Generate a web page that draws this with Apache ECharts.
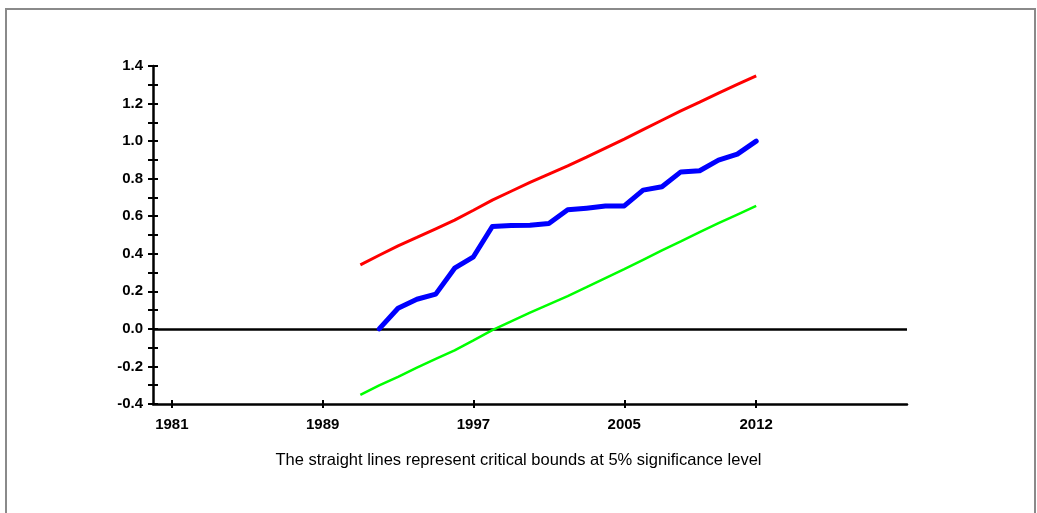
<!DOCTYPE html>
<html>
<head>
<meta charset="utf-8">
<script src="https://cdn.jsdelivr.net/npm/echarts@6/dist/echarts.min.js"></script>
<style>
html,body{margin:0;padding:0;background:#fff;}
#chart{width:1037px;height:513px;}
</style>
</head>
<body>
<div id="chart"></div>
<script>
// Data
const years = [1991,1992,1993,1994,1995,1996,1997,1998,1999,2000,2001,2002,2003,2004,2005,2006,2007,2008,2009,2010,2011,2012];
const cusumSqYears = [1992,1993,1994,1995,1996,1997,1998,1999,2000,2001,2002,2003,2004,2005,2006,2007,2008,2009,2010,2011,2012];
const cusumSq = [0.0,0.11,0.158,0.185,0.323,0.384,0.545,0.55,0.552,0.561,0.634,0.643,0.654,0.655,0.739,0.757,0.836,0.842,0.899,0.931,1.0];
const upperBound = [0.341,0.392,0.442,0.487,0.533,0.579,0.632,0.686,0.733,0.780,0.824,0.868,0.915,0.963,1.011,1.061,1.111,1.161,1.208,1.256,1.302,1.348];
const lowerBound = [-0.352,-0.301,-0.255,-0.206,-0.160,-0.114,-0.061,-0.007,0.040,0.087,0.131,0.175,0.222,0.270,0.318,0.368,0.418,0.466,0.515,0.563,0.609,0.655];
const xTickYears = [1981,1989,1997,2005,2012];
const footnote = 'The straight lines represent critical bounds at 5% significance level';

const chart = echarts.init(document.getElementById('chart'), null, {renderer:'canvas'});
const pair = (xs, ys) => xs.map((x,i)=>[x, ys[i]]);
const grid = {left:153, right:130, top:66, bottom:109};
const labelFont = {fontFamily:'Liberation Sans, Arial, sans-serif', fontWeight:'bold', fontSize:15, color:'#000'};

chart.setOption({
  animation:false,
  backgroundColor:'#fff',
  grid: grid,
  graphic: [
    {type:'rect', shape:{x:6, y:9, width:1029, height:530}, style:{fill:'none', stroke:'#8a8a8a', lineWidth:2}, silent:true},
    {type:'text', left:'center', top:452, style:{text:footnote, font:'16.5px "Liberation Sans", Arial, sans-serif', fill:'#000'}, silent:true}
  ],
  xAxis: [
    {type:'value', min:1980, max:2020, position:'bottom',
     axisLine:{show:true, onZero:false, lineStyle:{color:'#000', width:2.5}},
     axisTick:{show:true, inside:false, length:4, customValues:xTickYears, lineStyle:{color:'#000', width:2}},
     axisLabel:{show:true, customValues:xTickYears, margin:13, formatter:v=>String(v), ...labelFont},
     splitLine:{show:false}},
    {type:'value', min:1980, max:2020, position:'bottom',
     axisLine:{show:false, onZero:false},
     axisTick:{show:true, inside:true, length:4, customValues:xTickYears, lineStyle:{color:'#000', width:2}},
     axisLabel:{show:false},
     splitLine:{show:false}}
  ],
  yAxis: [
    {type:'value', min:-0.4, max:1.4, interval:0.2, position:'left',
     axisLine:{show:true, onZero:false, lineStyle:{color:'#000', width:2.5}},
     axisTick:{show:true, inside:false, length:5, lineStyle:{color:'#000', width:2}},
     minorTick:{show:true, splitNumber:2, length:5, lineStyle:{color:'#000', width:2}},
     axisLabel:{show:true, margin:10, formatter:v=>v.toFixed(1), ...labelFont},
     splitLine:{show:false}},
    {type:'value', min:-0.4, max:1.4, interval:0.2, position:'left',
     axisLine:{show:false, onZero:false},
     axisTick:{show:true, inside:true, length:5, lineStyle:{color:'#000', width:2}},
     minorTick:{show:true, splitNumber:2, length:5, lineStyle:{color:'#000', width:2}},
     axisLabel:{show:false},
     splitLine:{show:false}}
  ],
  series: [
    {type:'line', data:pair(years, upperBound), showSymbol:false, symbol:'none',
     lineStyle:{color:'#ff0000', width:3}, z:3},
    {type:'line', data:pair(years, lowerBound), showSymbol:false, symbol:'none',
     lineStyle:{color:'#00ff00', width:2.5}, z:3},
    {type:'line', data:pair(cusumSqYears, cusumSq), showSymbol:false, symbol:'none',
     lineStyle:{color:'#0000ff', width:5, join:'round', cap:'round'}, z:4,
     markLine:{silent:true, symbol:['none','none'], label:{show:false}, animation:false,
       lineStyle:{color:'#000', width:2.5, type:'solid'}, data:[{yAxis:0}], z:2}}
  ]
});
</script>
</body>
</html>
